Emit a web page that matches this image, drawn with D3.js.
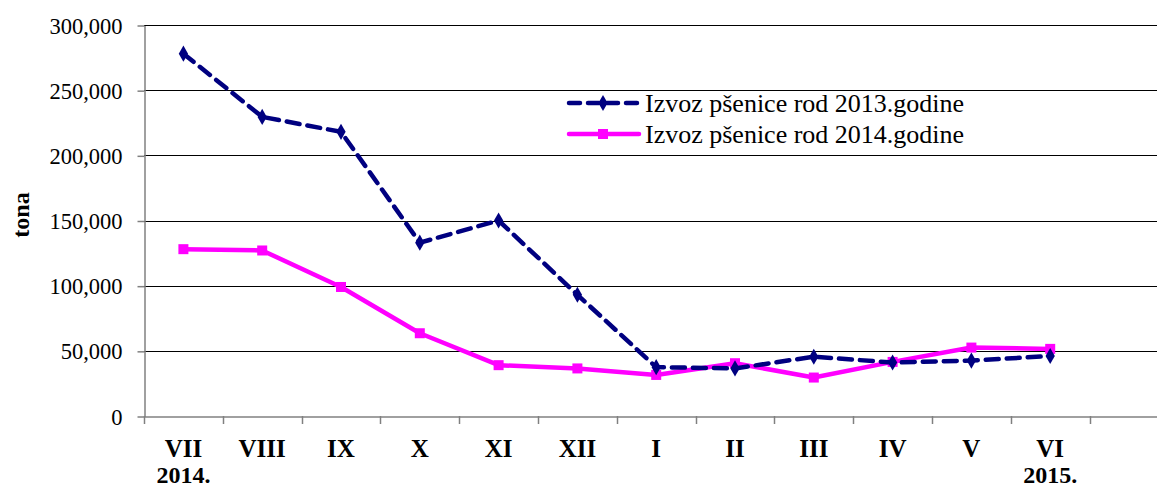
<!DOCTYPE html>
<html><head><meta charset="utf-8">
<script src="https://cdn.jsdelivr.net/npm/d3@7"></script>
<style>
html,body{margin:0;padding:0;background:#fff;}
text{font-family:"Liberation Serif","Times New Roman",serif;}
</style></head>
<body><svg id="c" width="1157" height="488"></svg>
<script>
const months = ["VII","VIII","IX","X","XI","XII","I","II","III","IV","V","VI"];
const yearLabels = ["2014.","","","","","","","","","","","2015."];
const export2013 = [278000,229500,218000,133000,150000,93000,37500,36500,45500,41000,42500,46000];
const export2014 = [128000,127000,99000,63500,39000,36500,31500,40500,29500,41500,52500,51500];
const yTicks = [0,50000,100000,150000,200000,250000,300000];
const seriesNames = ["Izvoz pšenice rod 2013.godine","Izvoz pšenice rod 2014.godine"];

const svg = d3.select("#c");
const plotLeft = 144, plotTop = 25, plotBottom = 416;
const bandW = 78.8;
const slots = months.concat([" "]);
const x = d3.scaleBand().domain(slots).range([plotLeft, plotLeft + bandW*slots.length]);
const y = d3.scaleLinear().domain([0,300000]).range([plotBottom, plotTop]);
const fmt = d3.format(",");

// gridlines
svg.append("g").selectAll("line").data(yTicks.filter(d=>d>0)).join("line")
  .attr("x1", plotLeft).attr("x2", 1157)
  .attr("y1", d=>Math.round(y(d))+0.5).attr("y2", d=>Math.round(y(d))+0.5)
  .attr("stroke","#000").attr("stroke-width",1);

// y axis
const ya = svg.append("g").attr("transform",`translate(${plotLeft+0.5},0.5)`)
  .call(d3.axisLeft(y).tickValues(yTicks).tickFormat(fmt).tickSize(7).tickSizeOuter(0));
ya.select(".domain").attr("stroke","#808080").attr("stroke-width",1.5);
ya.selectAll(".tick line").attr("stroke","#808080").attr("stroke-width",1.5);
ya.selectAll(".tick text").attr("font-size",22.5)
  .attr("fill","#000").attr("x",-22).attr("dy","0.34em");

// x axis
const xa = svg.append("g").attr("transform",`translate(0,${plotBottom+0.5})`)
  .call(d3.axisBottom(x).tickValues([]).tickSizeOuter(0));
xa.select(".domain").attr("stroke","#808080").attr("stroke-width",1.5);
const bounds = d3.range(slots.length+1).map(i=> plotLeft + i*bandW);
svg.append("g").selectAll("line").data(bounds).join("line")
  .attr("x1",d=>Math.round(d)+0.5).attr("x2",d=>Math.round(d)+0.5)
  .attr("y1",plotBottom).attr("y2",plotBottom+8)
  .attr("stroke","#808080").attr("stroke-width",1.5);

const cx = d => x(d) + x.bandwidth()/2;
svg.append("g").selectAll("text").data(months).join("text")
  .attr("x",d=>cx(d)).attr("y",457).attr("text-anchor","middle")
  .attr("font-size",25).attr("font-weight","bold").text(d=>d);
svg.append("g").selectAll("text").data(months).join("text")
  .attr("x",d=>cx(d)).attr("y",483).attr("text-anchor","middle")
  .attr("font-size",24).attr("font-weight","bold").text((d,i)=>yearLabels[i]);

// y title
svg.append("text").attr("transform","translate(29,215) rotate(-90)")
  .attr("text-anchor","middle").attr("font-size",24).attr("font-weight","bold").text("tona");

// lines
const line = d3.line().x((d,i)=>cx(months[i])).y(d=>y(d));
svg.append("path").datum(export2014).attr("d",line).attr("fill","none")
  .attr("stroke","#FF00FF").attr("stroke-width",4.5).attr("stroke-linejoin","round");
svg.append("g").selectAll("rect").data(export2014).join("rect")
  .attr("x",(d,i)=>cx(months[i])-5).attr("y",d=>y(d)-5).attr("width",10).attr("height",10)
  .attr("fill","#FF00FF");

svg.append("path").datum(export2013).attr("d",line).attr("fill","none")
  .attr("stroke","#000080").attr("stroke-width",4.5).attr("stroke-dasharray","13,8")
  .attr("stroke-linecap","round");
const diamond = d3.symbol().type(d3.symbolDiamond).size(75);
svg.append("g").selectAll("path").data(export2013).join("path")
  .attr("d",diamond).attr("transform",(d,i)=>`translate(${cx(months[i])},${y(d)})`)
  .attr("fill","#000080");

// legend
const lg = svg.append("g");
lg.append("line").attr("x1",569).attr("x2",639).attr("y1",103).attr("y2",103)
  .attr("stroke","#000080").attr("stroke-width",4.5).attr("stroke-dasharray","11,8").attr("stroke-linecap","round");
lg.append("path").attr("d",diamond).attr("transform","translate(603,103)").attr("fill","#000080");
lg.append("line").attr("x1",569).attr("x2",639).attr("y1",134).attr("y2",134)
  .attr("stroke","#FF00FF").attr("stroke-width",4.5).attr("stroke-linecap","round");
lg.append("rect").attr("x",598).attr("y",129).attr("width",10).attr("height",10).attr("fill","#FF00FF");
lg.selectAll("text").data(seriesNames).join("text")
  .attr("x",645).attr("y",(d,i)=>103+i*31).attr("dy","0.34em")
  .attr("font-size",26).text(d=>d);
</script></body></html>
